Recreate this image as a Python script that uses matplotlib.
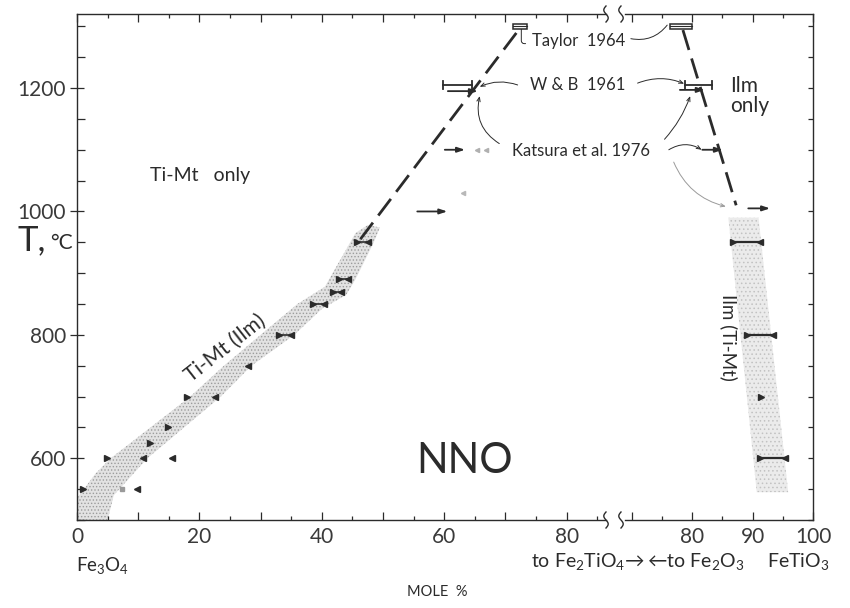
import numpy as np
import matplotlib
matplotlib.use("Agg")
import matplotlib.pyplot as plt
from matplotlib.patches import Polygon, Rectangle
from matplotlib.ticker import FixedLocator, FixedFormatter, MultipleLocator

plt.rcParams['font.family'] = ['Lato', 'DejaVu Sans']
plt.rcParams['mathtext.fontset'] = 'custom'
plt.rcParams['mathtext.rm'] = 'Lato'
plt.rcParams['mathtext.it'] = 'Lato'
plt.rcParams['hatch.linewidth'] = 0.6

INK = '#2b2b2b'

# ---- data (mole %, deg C) ----
# Ti-Mt (Ilm) band, Fe3O4 side: left/upper edge then right/lower edge
band_left_upper = [(0, 535), (3, 575), (5.5, 600), (12, 650), (18.5, 700), (24, 750),
                   (30, 800), (36, 850), (40.5, 878), (43.5, 930), (45.5, 965), (47.5, 978)]
band_left_lower = [(49.5, 974), (48.5, 950), (45.5, 890), (44, 865), (40, 842), (35.5, 800),
                   (28.5, 750), (23.5, 700), (11.5, 600), (6, 540), (5, 500), (0, 500)]
# Ilm (Ti-Mt) band, FeTiO3 side
band_right = [(86.0, 990), (91.0, 990), (95.9, 545), (90.7, 545)]

# single arrowhead brackets on the Ti-Mt side: (x, T, direction)
tm_heads = [(1.0, 550, '>'), (9.8, 550, '<'), (4.9, 600, '>'), (10.8, 600, '<'),
            (15.5, 600, '<'), (11.9, 625, '>'), (14.9, 650, '>'), (18.0, 700, '>'),
            (22.5, 700, '<'), (28.0, 750, '<')]
tm_faint = [(7.4, 550)]
# reversed brackets (x_low, x_high, T)
tm_pairs = [(33.0, 35.0, 800), (38.5, 40.3, 850), (41.8, 43.2, 870), (42.8, 44.2, 890),
            (45.8, 47.6, 950)]
ilm_pairs = [(86.8, 91.2, 950), (89.1, 93.4, 800), (91.2, 95.4, 600)]
ilm_heads = [(91.4, 700, '>')]

# Katsura et al. 1976 reversal arrows (x_start, x_end, T)
kat_left = [(60.6, 65.5, 1195), (60.1, 63.4, 1100), (55.6, 60.5, 1000)]
kat_right = [(78.0, 82.1, 1197), (81.7, 85.1, 1100), (89.3, 92.9, 1005)]
# Wones & Gilbert 1961 brackets
wb_left = (59.8, 64.5, 1205)
wb_right = (78.8, 83.3, 1205)
# Taylor 1964 boxes (x_low, x_high, T)
taylor_left = (71.2, 73.5, 1300)
taylor_right = (76.4, 80.0, 1300)
# solvus boundaries (dashed)
solvus_left_x = [46.3, 72.3]
solvus_left_t = [955, 1296]
solvus_right_x = [78.5, 87.3]
solvus_right_t = [1294, 1010]

left_xticks = [0, 10, 20, 30, 40, 50, 60, 70, 80]
left_xlabels = ['0', '', '20', '', '40', '', '60', '', '80']
right_xticks = [70, 80, 90, 100]
right_xlabels = ['', '80', '90', '100']
yticks = [600, 800, 1000, 1200]

W, H = 850, 608
fig = plt.figure(figsize=(W / 100, H / 100), dpi=100)


def px(x0, y0, x1, y1):
    return [x0 / W, 1 - y1 / H, (x1 - x0) / W, (y1 - y0) / H]


axL = fig.add_axes(px(77, 14, 606, 520))
axR = fig.add_axes(px(625, 14, 813, 520), sharey=axL)
axL.set_xlim(0, (606 - 77) / 6.12)
axR.set_xlim(80 - (692 - 625) / 6.05, 100)
axL.set_ylim(500, 1320)

for ax in (axL, axR):
    ax.patch.set_visible(False)
    for s in ax.spines.values():
        s.set_linewidth(1.0)
        s.set_color(INK)
    ax.xaxis.set_minor_locator(MultipleLocator(5))
    ax.tick_params(axis='x', which='both', direction='in', top=True, bottom=True,
                   color=INK, width=0.9, labelsize=15, labelcolor='#3a3a3a', pad=5)
    ax.tick_params(axis='x', which='major', length=5.5)
    ax.tick_params(axis='x', which='minor', length=3)
axL.spines['right'].set_visible(False)
axR.spines['left'].set_visible(False)

axL.xaxis.set_major_locator(FixedLocator(left_xticks))
axL.xaxis.set_major_formatter(FixedFormatter(left_xlabels))
axR.xaxis.set_major_locator(FixedLocator(right_xticks))
axR.xaxis.set_major_formatter(FixedFormatter(right_xlabels))

axL.yaxis.set_major_locator(FixedLocator(yticks))
axL.yaxis.set_minor_locator(MultipleLocator(50))
axL.tick_params(axis='y', which='major', direction='inout', length=10, width=0.9,
                color=INK, labelsize=15, labelcolor='#3a3a3a', pad=3)
axL.tick_params(axis='y', which='minor', direction='in', length=5.5, width=0.9, color=INK)
axR.yaxis.tick_right()
axR.tick_params(axis='y', which='both', direction='in', length=3.5, width=0.9,
                color=INK, labelright=False, labelleft=False)

# stippled bands
axL.add_patch(Polygon(band_left_upper + band_left_lower, closed=True, facecolor='#e2e2e2',
                      edgecolor='#9c9c9c', hatch='.....', linewidth=0, zorder=1))
axR.add_patch(Polygon(band_right, closed=True, facecolor='#ebebeb',
                      edgecolor='#c2c2c2', hatch='....', linewidth=0, zorder=1))

# bracket markers
for x, t, m in tm_heads:
    axL.plot(x, t, marker=m, color=INK, markersize=4.5, zorder=4)
for x, t in tm_faint:
    axL.plot(x, t, marker='s', color='#9a9a9a', markersize=2.5, zorder=4)
for x0, x1, t in tm_pairs:
    axL.plot([x0, x1], [t, t], color=INK, lw=1.2, zorder=4)
    axL.plot([x0], [t], marker='>', color=INK, markersize=4, zorder=4)
    axL.plot([x1], [t], marker='<', color=INK, markersize=4, zorder=4)
for x0, x1, t in ilm_pairs:
    axR.plot([x0, x1], [t, t], color=INK, lw=1.6, zorder=4)
    axR.plot([x0], [t], marker='>', color=INK, markersize=5, zorder=4)
    axR.plot([x1], [t], marker='<', color=INK, markersize=5, zorder=4)
for x, t, m in ilm_heads:
    axR.plot(x, t, marker=m, color=INK, markersize=5, zorder=4)

# reversal arrows
arrow_kw = dict(arrowstyle='-|>,head_length=0.45,head_width=0.15', color=INK, lw=1.3,
                shrinkA=0, shrinkB=0)
for ax, arrows in ((axL, kat_left), (axR, kat_right)):
    for x0, x1, t in arrows:
        ax.annotate('', xy=(x1, t), xytext=(x0, t), arrowprops=arrow_kw, annotation_clip=False)
axL.plot([65.3, 66.8], [1100, 1100], ls='none', marker='<', color='#b0b0b0', markersize=3)
axL.plot([63.0], [1030], marker='<', color='#b8b8b8', markersize=3)

# W & B brackets
for ax, (x0, x1, t) in ((axL, wb_left), (axR, wb_right)):
    ax.plot([x0, x1], [t, t], color=INK, lw=1.3, zorder=4)
    ax.plot([x0, x0], [t - 7, t + 7], color=INK, lw=1.3, zorder=4)
    ax.plot([x1, x1], [t - 7, t + 7], color=INK, lw=1.3, zorder=4)

# Taylor boxes
for ax, (x0, x1, t) in ((axL, taylor_left), (axR, taylor_right)):
    ax.add_patch(Rectangle((x0, t - 4), x1 - x0, 8, facecolor='white', edgecolor=INK,
                           lw=1.1, zorder=5, clip_on=False))
    ax.plot([x0, x1], [t, t], color=INK, lw=0.8, zorder=6, clip_on=False)

# solvus
axL.plot(solvus_left_x, solvus_left_t, color=INK, lw=2.0, dashes=(7.5, 3.2), zorder=3)
axR.plot(solvus_right_x, solvus_right_t, color=INK, lw=2.0, dashes=(7.5, 3.2), zorder=3)

# labels
tkw = dict(color=INK, clip_on=False, zorder=6)
axL.text(20.1, 1058, 'Ti-Mt   only', fontsize=14, ha='center', va='center', **tkw)
axL.text(24.3, 778, 'Ti-Mt (Ilm)', fontsize=15, ha='center', va='center', rotation=38,
         rotation_mode='anchor', **tkw)
axL.text(63.4, 596, 'NNO', fontsize=30, ha='center', va='center', **tkw)
axR.text(86.3, 1187, 'Ilm\nonly', fontsize=15, ha='left', va='center', linespacing=0.95, **tkw)
axR.text(86.0, 796, 'Ilm (Ti-Mt)', fontsize=13.5, ha='center', va='center', rotation=-90, **tkw)
axL.text(82.0, 1276, 'Taylor  1964', fontsize=12, ha='center', va='center', **tkw)
axL.text(81.8, 1205, 'W & B  1961', fontsize=12, ha='center', va='center', **tkw)
axL.text(82.3, 1098, 'Katsura et al. 1976', fontsize=12, ha='center', va='center', **tkw)

# leader lines (text end in left-panel data, target in either panel)
lead = dict(arrowstyle='->,head_length=0.3,head_width=0.12', color=INK, lw=0.7,
            shrinkA=0, shrinkB=0)
plain = dict(arrowstyle='-', color=INK, lw=0.7, shrinkA=0, shrinkB=0)
axL.annotate('', xy=(72.6, 1296), xytext=(73.3, 1272),
             arrowprops=dict(plain, connectionstyle='angle,angleA=0,angleB=90,rad=3'),
             annotation_clip=False)
axL.annotate('', xy=(75.9, 1302), xycoords=axR.transData, xytext=(90.5, 1280),
             textcoords='data',
             arrowprops=dict(plain, connectionstyle='arc3,rad=0.3'), annotation_clip=False)
axL.annotate('', xy=(65.8, 1202), xytext=(72.0, 1205),
             arrowprops=dict(lead, connectionstyle='arc3,rad=0.2'), annotation_clip=False)
axL.annotate('', xy=(78.7, 1207), xycoords=axR.transData, xytext=(91.6, 1208),
             textcoords='data',
             arrowprops=dict(lead, connectionstyle='arc3,rad=-0.2'), annotation_clip=False)
axL.annotate('', xy=(65.8, 1187), xytext=(69.0, 1110),
             arrowprops=dict(lead, connectionstyle='arc3,rad=-0.35'), annotation_clip=False)
axL.annotate('', xy=(79.7, 1187), xycoords=axR.transData, xytext=(96.0, 1117),
             textcoords='data',
             arrowprops=dict(lead, connectionstyle='arc3,rad=0.1'), annotation_clip=False)
axL.annotate('', xy=(81.6, 1100), xycoords=axR.transData, xytext=(96.7, 1100),
             textcoords='data',
             arrowprops=dict(lead, connectionstyle='arc3,rad=-0.3'), annotation_clip=False)
axL.annotate('', xy=(85.6, 1008), xycoords=axR.transData, xytext=(97.5, 1080),
             textcoords='data',
             arrowprops=dict(lead, color='#9a9a9a', connectionstyle='arc3,rad=0.25'),
             annotation_clip=False)

# axis-break squiggles on the top and bottom frame
s = np.linspace(-1, 1, 30)
for bx in (606, 621):
    for by in (14, 520):
        fig.add_artist(plt.Line2D((bx + 2.2 * np.sin(np.pi * s)) / W, 1 - (by + 8 * s) / H,
                                  color=INK, lw=1.0, transform=fig.transFigure))

# composition labels under the axis
fig.text(76 / W, 1 - 566 / H, r'Fe$_3$O$_4$', fontsize=13.5, ha='left', va='center', color=INK)
fig.text(588 / W, 1 - 562 / H, r'to Fe$_2$TiO$_4$→', fontsize=14, ha='center', va='center',
         color=INK)
fig.text(696 / W, 1 - 562 / H, r'←to Fe$_2$O$_3$', fontsize=14, ha='center', va='center',
         color=INK)
fig.text(798 / W, 1 - 562 / H, r'FeTiO$_3$', fontsize=14, ha='center', va='center', color=INK)
fig.text(437 / W, 1 - 592 / H, 'MOLE  %', fontsize=10.5, ha='center', va='center', color=INK)
fig.text(18 / W, 1 - 240 / H, 'T,', fontsize=25, ha='left', va='center', color=INK)
fig.text(50 / W, 1 - 243 / H, '°C', fontsize=15, ha='left', va='center', color=INK)

fig.savefig('out.png', dpi=100)
